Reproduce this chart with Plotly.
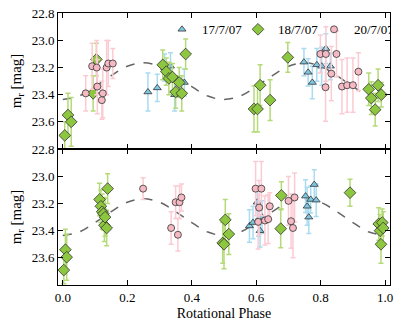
import plotly.graph_objects as go
from plotly.subplots import make_subplots

# model light curve
model_phase = [0.0, 0.05, 0.10, 0.15, 0.20, 0.25, 0.30, 0.35, 0.40, 0.45, 0.50,
               0.55, 0.60, 0.65, 0.70, 0.75, 0.80, 0.85, 0.90, 0.95, 1.0]
model_mag = [23.435, 23.41, 23.34, 23.26, 23.19, 23.165, 23.19, 23.26, 23.34, 23.41, 23.435,
             23.41, 23.34, 23.26, 23.19, 23.165, 23.19, 23.26, 23.34, 23.41, 23.435]

# top panel
top_blue_phase = [0.264, 0.293, 0.316, 0.334, 0.347, 0.377, 0.748, 0.761, 0.774, 0.788, 0.803, 0.816, 0.830]
top_blue_mag = [23.38, 23.35, 23.20, 23.19, 23.40, 23.31, 23.16, 23.235, 23.31, 23.18, 23.19, 23.06, 23.19]
top_blue_err = [0.14, 0.10, 0.10, 0.10, 0.12, 0.10, 0.10, 0.10, 0.12, 0.12, 0.14, 0.11, 0.10]

top_green_phase = [0.006, 0.016, 0.026, 0.094, 0.104, 0.310, 0.321, 0.329, 0.340, 0.350, 0.361, 0.369,
                   0.381, 0.593, 0.604, 0.612, 0.643, 0.698, 0.949, 0.957, 0.969, 0.978, 0.988]
top_green_mag = [23.70, 23.55, 23.60, 23.39, 23.14, 23.18, 23.23, 23.28, 23.27, 23.38, 23.31, 23.39,
                 23.10, 23.505, 23.505, 23.33, 23.44, 23.125, 23.36, 23.425, 23.51, 23.33, 23.40]
top_green_err = [0.10, 0.16, 0.18, 0.13, 0.12, 0.11, 0.10, 0.12, 0.10, 0.12, 0.11, 0.13,
                 0.11, 0.17, 0.17, 0.15, 0.15, 0.11, 0.12, 0.12, 0.12, 0.12, 0.09]

top_pink_phase = [0.071, 0.091, 0.105, 0.107, 0.121, 0.124, 0.136, 0.141, 0.155,
                  0.799, 0.815, 0.816, 0.833, 0.849, 0.866, 0.882, 0.900, 0.917]
top_pink_mag = [23.39, 23.19, 23.20, 23.34, 23.44, 23.39, 23.20, 23.17, 23.17,
                23.10, 23.345, 23.10, 23.245, 23.10, 23.34, 23.33, 23.33, 23.23]
top_pink_err = [0.13, 0.17, 0.20, 0.20, 0.14, 0.18, 0.20, 0.17, 0.11,
                0.14, 0.25, 0.20, 0.20, 0.17, 0.20, 0.20, 0.20, 0.14]

# bottom panel
bot_blue_phase = [0.579, 0.590, 0.603, 0.607, 0.612, 0.618, 0.753, 0.758, 0.763, 0.769, 0.780, 0.786]
bot_blue_mag = [23.365, 23.34, 23.19, 23.32, 23.40, 23.30, 23.145, 23.22, 23.30, 23.17, 23.06, 23.175]
bot_blue_err = [0.12, 0.12, 0.12, 0.12, 0.12, 0.12, 0.12, 0.14, 0.12, 0.10, 0.11, 0.12]

bot_green_phase = [0.003, 0.008, 0.012, 0.114, 0.118, 0.122, 0.126, 0.129, 0.131, 0.136, 0.139, 0.496,
                   0.500, 0.504, 0.515, 0.676, 0.678, 0.891, 0.980, 0.984, 0.987, 0.991, 0.994]
bot_green_mag = [23.69, 23.54, 23.595, 23.17, 23.22, 23.26, 23.275, 23.36, 23.30, 23.38, 23.09, 23.49,
                 23.50, 23.32, 23.425, 23.385, 23.14, 23.12, 23.35, 23.40, 23.50, 23.34, 23.38]
bot_green_err = [0.10, 0.15, 0.17, 0.12, 0.12, 0.13, 0.12, 0.12, 0.14, 0.13, 0.11, 0.15,
                 0.18, 0.15, 0.15, 0.14, 0.10, 0.10, 0.12, 0.12, 0.14, 0.10, 0.12]

bot_pink_phase = [0.249, 0.336, 0.350, 0.357, 0.362, 0.368, 0.598, 0.606, 0.609, 0.616, 0.627, 0.637,
                  0.642, 0.700, 0.708, 0.714, 0.719]
bot_pink_mag = [23.09, 23.38, 23.19, 23.43, 23.19, 23.155, 23.09, 23.335, 23.23, 23.09, 23.325, 23.315,
                23.22, 23.18, 23.33, 23.38, 23.155]
bot_pink_err = [0.08, 0.12, 0.12, 0.12, 0.12, 0.10, 0.20, 0.20, 0.20, 0.20, 0.18, 0.18,
                0.10, 0.18, 0.20, 0.22, 0.18]

y_ticks = [22.8, 23.0, 23.2, 23.4, 23.6]
x_ticks = [0.0, 0.2, 0.4, 0.6, 0.8, 1.0]

FONT = "Liberation Serif"
styles = {
    "17/7/07": dict(symbol="triangle-up", size=7, fill="#7ec8e3", bar="#a9dcf0"),
    "18/7/07": dict(symbol="diamond", size=9, fill="#8dc63f", bar="#b5da78"),
    "20/7/07": dict(symbol="circle", size=7, fill="#f5b9c3", bar="#fbcbd3"),
}

fig = make_subplots(rows=2, cols=1, shared_xaxes=True, vertical_spacing=0)


def add_series(name, phase, mag, err, row):
    s = styles[name]
    fig.add_trace(go.Scatter(
        x=phase, y=mag, mode="markers", name=name, showlegend=(row == 1),
        marker=dict(symbol=s["symbol"], size=s["size"], color=s["fill"],
                    line=dict(color="#333333", width=0.8)),
        error_y=dict(type="data", array=err, color=s["bar"], thickness=1.5, width=2.5),
    ), row=row, col=1)


for row in (1, 2):
    fig.add_trace(go.Scatter(
        x=model_phase, y=model_mag, mode="lines", showlegend=False,
        line=dict(color="#666666", width=1.5, dash="dash", shape="spline"),
    ), row=row, col=1)

add_series("17/7/07", top_blue_phase, top_blue_mag, top_blue_err, 1)
add_series("18/7/07", top_green_phase, top_green_mag, top_green_err, 1)
add_series("20/7/07", top_pink_phase, top_pink_mag, top_pink_err, 1)
add_series("17/7/07", bot_blue_phase, bot_blue_mag, bot_blue_err, 2)
add_series("18/7/07", bot_green_phase, bot_green_mag, bot_green_err, 2)
add_series("20/7/07", bot_pink_phase, bot_pink_mag, bot_pink_err, 2)

axis_style = dict(showline=True, linecolor="black", linewidth=1, mirror="ticks",
                  ticks="inside", ticklen=5, tickcolor="black", showgrid=False,
                  zeroline=False, tickfont=dict(family=FONT, size=13, color="black"))

for row in (1, 2):
    fig.update_xaxes(range=[-0.015, 1.015], tickvals=x_ticks, tickformat=".1f",
                     row=row, col=1, **axis_style)
    fig.update_yaxes(range=[23.8, 22.798], tickvals=y_ticks, tickformat=".1f",
                     title=dict(text="m<sub>r</sub> [mag]", font=dict(family=FONT, size=15, color="black"),
                                standoff=6),
                     row=row, col=1, **axis_style)

fig.update_xaxes(showticklabels=False, row=1, col=1)
fig.update_xaxes(title=dict(text="Rotational Phase", font=dict(family=FONT, size=14, color="black"),
                            standoff=4), row=2, col=1)

fig.update_layout(
    width=399, height=324,
    margin=dict(l=58, r=6, t=8, b=39),
    plot_bgcolor="white", paper_bgcolor="white",
    font=dict(family=FONT, size=13, color="black"),
    legend=dict(orientation="h", x=1.0, xanchor="right", y=0.995, yanchor="top",
                bgcolor="rgba(0,0,0,0)", font=dict(family=FONT, size=13),
                itemwidth=30, entrywidth=31, tracegroupgap=0),
)

fig.write_html("out.html", config={"displayModeBar": False},
               post_script="document.body.style.margin='0';")
